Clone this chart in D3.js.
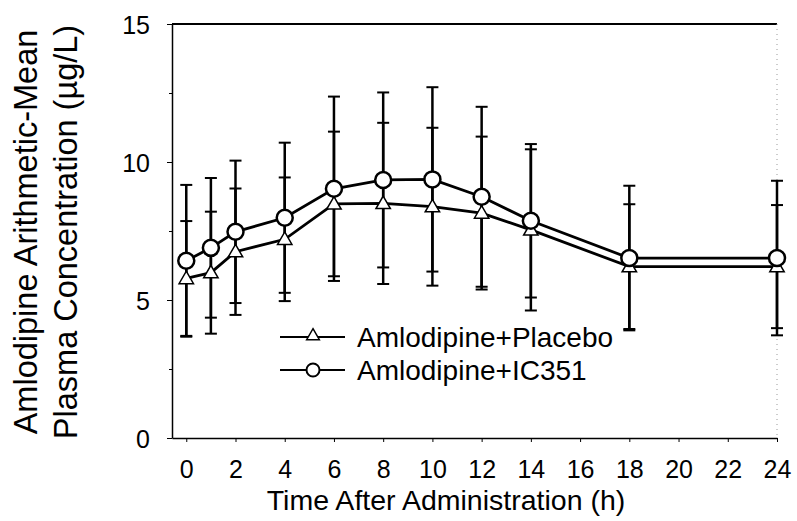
<!DOCTYPE html>
<html>
<head>
<meta charset="utf-8">
<script src="https://cdn.jsdelivr.net/npm/d3@7"></script>
<style>
  body { margin: 0; background: #fff; }
  text { font-family: "Liberation Sans", Arial, sans-serif; fill: #000; }
</style>
</head>
<body>
<svg id="chart" width="797" height="521"></svg>
<script>
'use strict';

// Horas tras la administración
var horas = [0, 1, 2, 4, 6, 8, 10, 12, 14, 18, 24];

// Amlodipine + IC351 (círculos)
var ic351Media = [6.42, 6.89, 7.47, 7.98, 9.03, 9.35, 9.37, 8.74, 7.87, 6.52, 6.52];
var ic351De    = [2.75, 2.53, 2.58, 2.72, 3.34, 3.17, 3.34, 3.26, 2.78, 2.62, 2.80];

// Amlodipine + Placebo (triángulos)
var placeboMedia = [5.78, 5.99, 6.75, 7.20, 8.48, 8.50, 8.38, 8.15, 7.54, 6.21, 6.21];
var placeboDe    = [2.08, 2.21, 2.29, 2.24, 2.62, 2.92, 2.86, 2.77, 2.92, 2.26, 2.23];

var xTicks = [0, 2, 4, 6, 8, 10, 12, 14, 16, 18, 20, 22, 24];
var yTicks = [0, 5, 10, 15];
var yMenores = [2.5, 7.5, 12.5];

var leyenda = ['Amlodipine+Placebo', 'Amlodipine+IC351'];
var tituloX = 'Time After Administration (h)';
var tituloY = ['Amlodipine Arithmetic-Mean', 'Plasma Concentration (\u00b5g/L)'];

var svg = d3.select('#chart');

var x = d3.scaleLinear().domain([-0.58, 24]).range([172, 777]);
var y = d3.scaleLinear().domain([0, 15]).range([438, 24]);

var serie = function(medias, des) {
  return horas.map(function(h, i) {
    return { h: h, m: medias[i], sd: des[i] };
  });
};
var placebo = serie(placeboMedia, placeboDe);
var ic351 = serie(ic351Media, ic351De);

// Marco
svg.append('line').attr('x1', x.range()[0]).attr('x2', x.range()[1])
  .attr('y1', y(15)).attr('y2', y(15)).attr('stroke', '#000').attr('stroke-width', 1.8);
svg.append('line').attr('x1', x.range()[1]).attr('x2', x.range()[1])
  .attr('y1', y(15)).attr('y2', y(0)).attr('stroke', '#999')
  .attr('stroke-width', 1).attr('stroke-dasharray', '1,4');

// Ejes
var ejeX = svg.append('g').attr('transform', 'translate(0,' + y(0) + ')')
  .call(d3.axisBottom(x).tickValues(xTicks).tickSize(4).tickSizeOuter(0).tickPadding(18));
ejeX.select('.domain').attr('stroke-width', 1.5);
ejeX.selectAll('.tick text').attr('font-size', 25).attr('font-family', null);

var ejeY = svg.append('g').attr('transform', 'translate(' + x.range()[0] + ',0)')
  .call(d3.axisLeft(y).tickValues(yTicks).tickSize(5).tickSizeOuter(0).tickPadding(17));
ejeY.select('.domain').attr('stroke-width', 1.5);
ejeY.selectAll('.tick text').attr('font-size', 25).attr('font-family', null).attr('dy', '0.36em');

svg.append('g').attr('transform', 'translate(' + x.range()[0] + ',0)')
  .call(d3.axisLeft(y).tickValues(yMenores).tickSize(3).tickFormat(''))
  .select('.domain').remove();

// Barras de error
var barras = function(datos) {
  var g = svg.append('g').attr('stroke', '#000').attr('stroke-width', 2.5);
  datos.forEach(function(d) {
    var cx = x(d.h);
    g.append('line').attr('x1', cx).attr('x2', cx)
      .attr('y1', y(d.m - d.sd)).attr('y2', y(d.m + d.sd));
    [d.m - d.sd, d.m + d.sd].forEach(function(v) {
      g.append('line').attr('x1', cx - 6).attr('x2', cx + 6)
        .attr('y1', y(v)).attr('y2', y(v)).attr('stroke-width', 2);
    });
  });
};
barras(placebo);
barras(ic351);

// Líneas
var linea = d3.line().x(function(d) { return x(d.h); }).y(function(d) { return y(d.m); });
[placebo, ic351].forEach(function(datos) {
  svg.append('path').datum(datos).attr('d', linea)
    .attr('fill', 'none').attr('stroke', '#000').attr('stroke-width', 2.8);
});

// Marcadores
var triangulo = d3.symbol().type(d3.symbolTriangle).size(90);
svg.append('g').selectAll('path').data(placebo).enter().append('path')
  .attr('d', triangulo)
  .attr('transform', function(d) { return 'translate(' + x(d.h) + ',' + (y(d.m) + 1) + ')'; })
  .attr('fill', '#fff').attr('stroke', '#000').attr('stroke-width', 1.5);
svg.append('g').selectAll('circle').data(ic351).enter().append('circle')
  .attr('cx', function(d) { return x(d.h); })
  .attr('cy', function(d) { return y(d.m); })
  .attr('r', 8).attr('fill', '#fff').attr('stroke', '#000').attr('stroke-width', 2.5);

// Leyenda
var ley = svg.append('g').attr('transform', 'translate(280,337)');
leyenda.forEach(function(nombre, i) {
  var fila = ley.append('g').attr('transform', 'translate(0,' + (i * 33) + ')');
  fila.append('line').attr('x1', 0).attr('x2', 65).attr('y1', 0).attr('y2', 0)
    .attr('stroke', '#000').attr('stroke-width', 2);
  if (i === 0) {
    fila.append('path').attr('d', d3.symbol().type(d3.symbolTriangle).size(70))
      .attr('transform', 'translate(33,-1)')
      .attr('fill', '#fff').attr('stroke', '#000').attr('stroke-width', 1.5);
  } else {
    fila.append('circle').attr('cx', 33).attr('cy', 0).attr('r', 6.5)
      .attr('fill', '#fff').attr('stroke', '#000').attr('stroke-width', 2);
  }
  fila.append('text').attr('x', 77).attr('y', 0).attr('dy', '0.36em')
    .attr('font-size', 28).text(nombre);
});

// Títulos
svg.append('text').attr('x', 446).attr('y', 510).attr('text-anchor', 'middle')
  .attr('font-size', 28.5).text(tituloX);

tituloY.forEach(function(t, i) {
  svg.append('text')
    .attr('transform', 'translate(' + (37 + i * 40) + ',232) rotate(-90)')
    .attr('text-anchor', 'middle').attr('font-size', 32.5).text(t);
});
</script>
</body>
</html>
